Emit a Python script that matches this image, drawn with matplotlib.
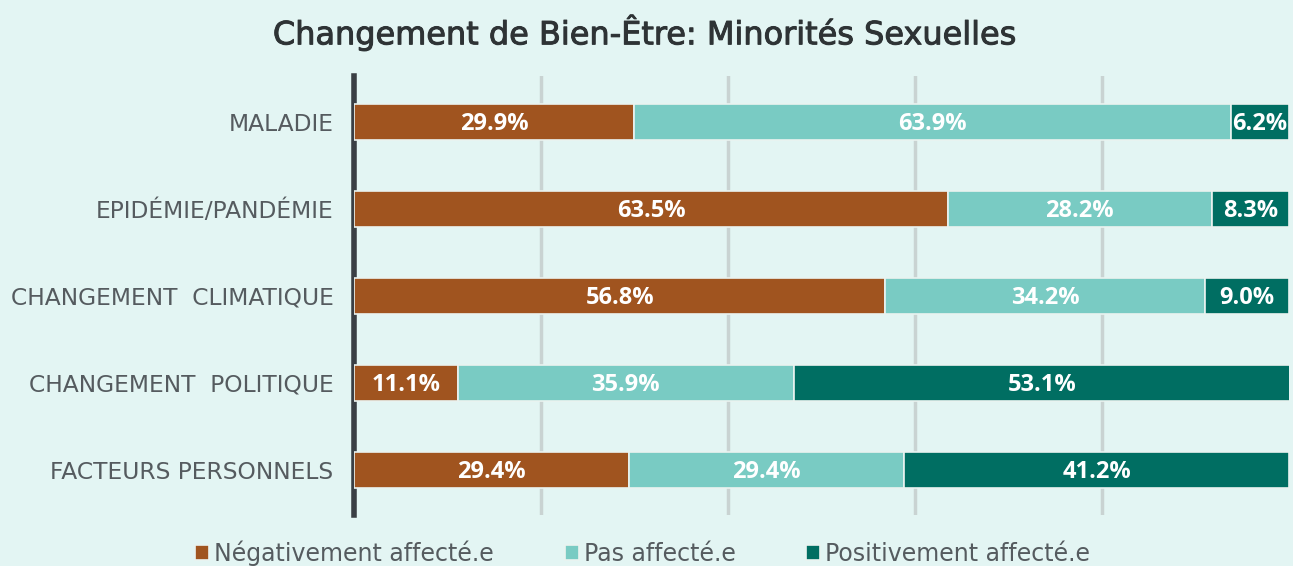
import matplotlib.pyplot as plt
import matplotlib.patheffects as pe
import numpy as np

categories = ['MALADIE', 'EPIDÉMIE/PANDÉMIE', 'CHANGEMENT  CLIMATIQUE',
              'CHANGEMENT  POLITIQUE', 'FACTEURS PERSONNELS']
negatif = [29.9, 63.5, 56.8, 11.1, 29.4]
pas_affecte = [63.9, 28.2, 34.2, 35.9, 29.4]
positif = [6.2, 8.3, 9.0, 53.1, 41.2]
series_names = ['Négativement affecté.e', 'Pas affecté.e', 'Positivement affecté.e']
colors = ['#A0541F', '#79CBC3', '#006E62']

bg = '#E3F5F3'
fig = plt.figure(figsize=(12.93, 5.66), dpi=100, facecolor=bg)
ax = fig.add_axes([0.274, 0.09, 0.723, 0.775], facecolor=bg)

y = np.arange(len(categories))
left = np.zeros(len(categories))
for vals, name, col in zip([negatif, pas_affecte, positif], series_names, colors):
    bars = ax.barh(y, vals, left=left, height=0.41, color=col, label=name,
                   edgecolor='#EAF3F0', linewidth=1.2, zorder=3)
    for b, v in zip(bars, vals):
        ax.text(b.get_x() + b.get_width() / 2, b.get_y() + b.get_height() / 2 + 0.03,
                f'{v:.1f}%', ha='center', va='center', color='white',
                fontsize=17, fontweight='bold', family='Open Sans', zorder=4)
    left += np.array(vals)

ax.set_xlim(0, 100)
ax.set_ylim(len(categories) - 0.5 + 0.02, -0.5 - 0.02)
ax.set_yticks(y)
ax.set_yticklabels(categories, fontsize=16.8, color='#555B5F', family='DejaVu Sans')
ax.set_xticks([20, 40, 60, 80])
ax.xaxis.grid(True, color='#C9D3D2', linewidth=2.5, zorder=0)
ax.tick_params(axis='x', length=0, labelbottom=False)
ax.tick_params(axis='y', length=0, pad=15)
for s in ['top', 'right', 'bottom']:
    ax.spines[s].set_visible(False)
ax.spines['left'].set_color('#3A3F44')
ax.spines['left'].set_linewidth(4)

fig.text(0.499, 0.942, 'Changement de Bien-Être: Minorités Sexuelles', ha='center', va='center',
         fontsize=23, color='#2E3335', family='DejaVu Sans',
         path_effects=[pe.withStroke(linewidth=0.7, foreground='#2E3335')])

leg = fig.legend(loc='center', bbox_to_anchor=(0.497, 0.022), ncol=3, frameon=False,
                 prop={'family': 'DejaVu Sans', 'size': 17},
                 handlelength=0.6, handleheight=0.6, handletextpad=0.2, columnspacing=3.0)
for t in leg.get_texts():
    t.set_color('#555B5F')

plt.savefig('out.png', dpi=100, facecolor=bg)
